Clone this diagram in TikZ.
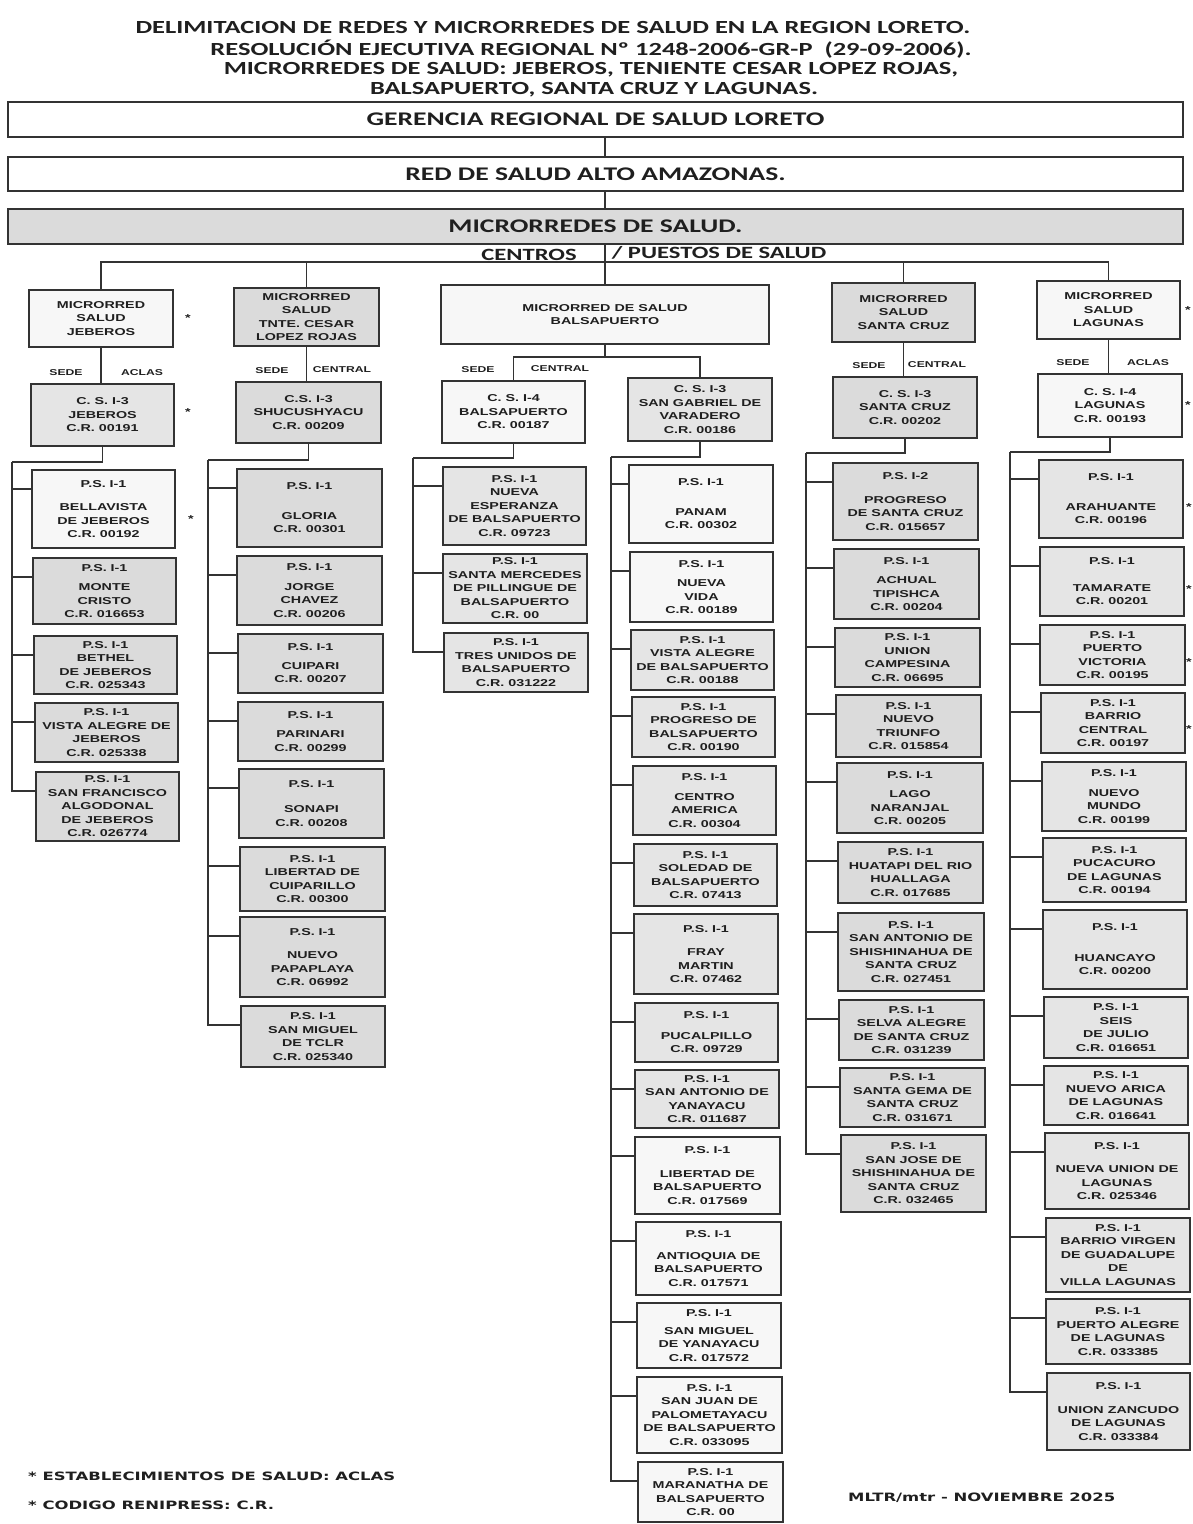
\documentclass[tikz,border=0pt]{standalone}
\usepackage{fontspec}
\newfontfamily\boxfont[FakeStretch=1.43]{Liberation Sans}
\newfontfamily\hdrfont[FakeStretch=1.43]{Carlito}
\newfontfamily\ftfont[FakeStretch=1.43]{DejaVu Sans}
\usetikzlibrary{calc}
\definecolor{linec}{gray}{0.2}
\definecolor{txtc}{gray}{0.12}
\definecolor{gfill}{gray}{0.86}
\definecolor{lfill}{gray}{0.9}
\definecolor{wfill}{gray}{0.97}
\tikzset{
  box/.style={draw=linec, line width=1.4pt, inner sep=0pt, outer sep=0pt, align=center, text=txtc,
              font=\boxfont\bfseries\fontsize{10}{13.5}\selectfont},
  wbox/.style={box, fill=wfill},
  lbox/.style={box, fill=lfill},
  gbox/.style={box, fill=gfill},
  hbox/.style={draw=linec, line width=1.4pt, inner sep=0pt, outer sep=0pt, text=txtc,
               font=\hdrfont\bfseries\fontsize{19.3}{22}\selectfont},
  conn/.style={draw=linec, line width=1.5pt},
  lbl/.style={inner sep=0pt, text=txtc, font=\boxfont\bfseries\fontsize{8.5}{10}\selectfont},
  ttl/.style={inner sep=0pt, text=txtc, font=\hdrfont\bfseries\fontsize{18.5}{22}\selectfont},
  starmark/.style={inner sep=0pt, text=txtc, font=\boxfont\bfseries\fontsize{10}{12}\selectfont},
  foot/.style={inner sep=0pt, anchor=west, text=txtc, font=\ftfont\bfseries\fontsize{11.5}{14}\selectfont}
}
\newcommand\bx[7]{\node[#6, minimum width={#4-#2}, minimum height={#5-#3}] (#1) at ({(#2+#4)/2},{(#3+#5)/2}) {#7};}
\newcommand\tk[2]{\draw[conn] (#1) |- ([yshift=-19pt]#2.north west);}
\begin{document}
\begin{tikzpicture}[x=1pt,y=-1pt]
\fill[white] (0,0) rectangle (1192,1524);
\useasboundingbox (0,0) rectangle (1192,1524);

% titles
\node[ttl] (t1) at (553,27) {DELIMITACION DE REDES Y MICRORREDES DE SALUD EN LA REGION LORETO.};
\node[ttl] (t2) at (591,49) {RESOLUCIÓN EJECUTIVA REGIONAL Nº 1248-2006-GR-P\ \ (29-09-2006).};
\node[ttl] (t3) at (591,70) {MICRORREDES DE SALUD: JEBEROS, TENIENTE CESAR LOPEZ ROJAS,};
\node[ttl] (t4) at (594,90) {BALSAPUERTO, SANTA CRUZ Y LAGUNAS.};

% header boxes
\node[hbox, fill=white, minimum width=1175, minimum height=35] (ger) at (595.5,119.5) {GERENCIA REGIONAL DE SALUD LORETO};
\node[hbox, fill=white, minimum width=1175, minimum height=34] (red) at (595.5,174) {RED DE SALUD ALTO AMAZONAS.};
\node[hbox, fill=gfill, minimum width=1175, minimum height=35] (mic) at (595.5,226.5) {MICRORREDES DE SALUD.};
\node[ttl, font=\hdrfont\bfseries\fontsize{17.2}{20}\selectfont] (cen) at (529,255) {CENTROS};
\node[ttl, font=\hdrfont\bfseries\fontsize{17.2}{20}\selectfont] (pue) at (719,253) {/ PUESTOS DE SALUD};

% level 1
\bx{jeb}{29}{290}{173}{347}{wbox}{MICRORRED\\SALUD\\JEBEROS}
\bx{tcl}{234}{288}{379}{346}{gbox}{MICRORRED\\SALUD\\TNTE. CESAR\\LOPEZ ROJAS}
\bx{bal}{441}{285}{769}{344}{wbox}{MICRORRED DE SALUD\\BALSAPUERTO}
\bx{scr}{832}{283}{975}{342}{gbox}{MICRORRED\\SALUD\\SANTA CRUZ}
\bx{lag}{1037}{281}{1180}{339}{wbox}{MICRORRED\\SALUD\\LAGUNAS}

\coordinate (bar) at (605,262);
\draw[conn] (ger.south -| bal.north) -- (red.north -| bal.north);
\draw[conn] (red.south -| bal.north) -- (mic.north -| bal.north);
\draw[conn] (mic.south -| bal.north) -- (bal.north);
\draw[conn] (jeb.north) |- (bar);
\draw[conn] (lag.north) |- (bar);
\draw[conn] (tcl.north) -- (tcl.north |- bar);
\draw[conn] (scr.north) -- (scr.north |- bar);

% level 2
\bx{csj}{31}{384}{174}{446}{lbox}{C. S. I-3\\JEBEROS\\C.R. 00191}
\bx{css}{236}{382}{381}{443}{gbox}{C.S. I-3\\SHUCUSHYACU\\C.R. 00209}
\bx{csb}{442}{381}{585}{443}{wbox}{C. S. I-4\\BALSAPUERTO\\C.R. 00187}
\bx{sgv}{628}{378}{772}{441}{lbox}{C. S. I-3\\SAN GABRIEL DE\\VARADERO\\C.R. 00186}
\bx{csc}{833}{377}{977}{438}{gbox}{C. S. I-3\\SANTA CRUZ\\C.R. 00202}
\bx{csl}{1038}{374}{1182}{437}{wbox}{C. S. I-4\\LAGUNAS\\C.R. 00193}

\draw[conn] (jeb.south) -- (jeb.south |- csj.north);
\draw[conn] (tcl.south) -- (tcl.south |- css.north);
\coordinate (b2) at (605,357);
\draw[conn] (bal.south) -- (bal.south |- b2);
\draw[conn] (csb.north) |- (sgv.north |- b2) -- (sgv.north);
\draw[conn] (scr.south) -- (scr.south |- csc.north);
\draw[conn] (lag.south) -- (lag.south |- csl.north);

\node[lbl] (l1a) at (66,373) {SEDE};
\node[lbl] (l1b) at (142,373) {ACLAS};
\node[lbl] (l2a) at (272,371) {SEDE};
\node[lbl] (l2b) at (342,370) {CENTRAL};
\node[lbl] (l3a) at (478,370) {SEDE};
\node[lbl] (l3b) at (560,369) {CENTRAL};
\node[lbl] (l4a) at (869,366) {SEDE};
\node[lbl] (l4b) at (937,365) {CENTRAL};
\node[lbl] (l5a) at (1073,363) {SEDE};
\node[lbl] (l5b) at (1148,363) {ACLAS};

% column 1
\bx{bel}{32}{470}{175}{548}{wbox}{P.S. I-1\\[10pt]BELLAVISTA\\DE JEBEROS\\C.R. 00192}
\bx{mon}{33}{558}{176}{624}{gbox}{P.S. I-1\\[6pt]MONTE\\CRISTO\\C.R. 016653}
\bx{bet}{34}{636}{177}{694}{gbox}{P.S. I-1\\BETHEL\\DE JEBEROS\\C.R. 025343}
\bx{vaj}{35}{703}{178}{762}{gbox}{P.S. I-1\\VISTA ALEGRE DE\\JEBEROS\\C.R. 025338}
\bx{sfr}{36}{772}{179}{841}{gbox}{P.S. I-1\\SAN FRANCISCO\\ALGODONAL\\DE JEBEROS\\C.R. 026774}
\coordinate (v1) at (12,462);
\draw[conn] (csj.south) |- (v1);
\tk{v1}{bel}\tk{v1}{mon}\tk{v1}{bet}\tk{v1}{vaj}\tk{v1}{sfr}

% column 2
\bx{glo}{237}{469}{382}{547}{gbox}{P.S. I-1\\[16pt]GLORIA\\C.R. 00301}
\bx{jor}{237}{556}{382}{625}{gbox}{P.S. I-1\\[6pt]JORGE\\CHAVEZ\\C.R. 00206}
\bx{cui}{238}{634}{383}{693}{gbox}{P.S. I-1\\[5pt]CUIPARI\\C.R. 00207}
\bx{par}{238}{702}{383}{761}{gbox}{P.S. I-1\\[6pt]PARINARI\\C.R. 00299}
\bx{son}{239}{769}{384}{838}{gbox}{P.S. I-1\\[12pt]SONAPI\\C.R. 00208}
\bx{lcu}{240}{847}{385}{911}{gbox}{P.S. I-1\\LIBERTAD DE\\CUIPARILLO\\C.R. 00300}
\bx{pap}{240}{917}{385}{997}{gbox}{P.S. I-1\\[10pt]NUEVO\\PAPAPLAYA\\C.R. 06992}
\bx{smt}{241}{1006}{385}{1067}{gbox}{P.S. I-1\\SAN MIGUEL\\DE TCLR\\C.R. 025340}
\coordinate (v2) at (208,460);
\draw[conn] (css.south) |- (v2);
\tk{v2}{glo}\tk{v2}{jor}\tk{v2}{cui}\tk{v2}{par}\tk{v2}{son}\tk{v2}{lcu}\tk{v2}{pap}\tk{v2}{smt}

% column 3a
\bx{nes}{443}{467}{586}{545}{lbox}{P.S. I-1\\NUEVA\\ESPERANZA\\DE BALSAPUERTO\\C.R. 09723}
\bx{smp}{443}{554}{587}{623}{lbox}{P.S. I-1\\SANTA MERCEDES\\DE PILLINGUE DE\\BALSAPUERTO\\C.R. 00}
\bx{tun}{444}{633}{588}{692}{lbox}{P.S. I-1\\TRES UNIDOS DE\\BALSAPUERTO\\C.R. 031222}
\coordinate (v3a) at (413,458);
\draw[conn] (csb.south) |- (v3a);
\tk{v3a}{nes}\tk{v3a}{smp}\tk{v3a}{tun}

% column 3b
\bx{pan}{629}{465}{773}{543}{wbox}{P.S. I-1\\[16pt]PANAM\\C.R. 00302}
\bx{nvi}{630}{552}{773}{622}{wbox}{P.S. I-1\\[6pt]NUEVA\\VIDA\\C.R. 00189}
\bx{vab}{631}{630}{774}{690}{lbox}{P.S. I-1\\VISTA ALEGRE\\DE BALSAPUERTO\\C.R. 00188}
\bx{pgb}{632}{697}{775}{757}{lbox}{P.S. I-1\\PROGRESO DE\\BALSAPUERTO\\C.R. 00190}
\bx{cam}{633}{766}{776}{835}{lbox}{P.S. I-1\\[6pt]CENTRO\\AMERICA\\C.R. 00304}
\bx{sol}{634}{844}{777}{906}{lbox}{P.S. I-1\\SOLEDAD DE\\BALSAPUERTO\\C.R. 07413}
\bx{fra}{634}{914}{778}{994}{lbox}{P.S. I-1\\[10pt]FRAY\\MARTIN\\C.R. 07462}
\bx{puc}{635}{1003}{778}{1062}{lbox}{P.S. I-1\\[7pt]PUCALPILLO\\C.R. 09729}
\bx{say}{635}{1070}{779}{1128}{lbox}{P.S. I-1\\SAN ANTONIO DE\\YANAYACU\\C.R. 011687}
\bx{lba}{635}{1137}{780}{1214}{wbox}{P.S. I-1\\[10pt]LIBERTAD DE\\BALSAPUERTO\\C.R. 017569}
\bx{ant}{636}{1222}{781}{1295}{wbox}{P.S. I-1\\[8pt]ANTIOQUIA DE\\BALSAPUERTO\\C.R. 017571}
\bx{smy}{637}{1303}{781}{1368}{wbox}{P.S. I-1\\[4pt]SAN MIGUEL\\DE YANAYACU\\C.R. 017572}
\bx{sjp}{637}{1377}{782}{1453}{wbox}{P.S. I-1\\SAN JUAN DE\\PALOMETAYACU\\DE BALSAPUERTO\\C.R. 033095}
\bx{mar}{638}{1462}{783}{1522}{wbox}{P.S. I-1\\MARANATHA DE\\BALSAPUERTO\\C.R. 00}
\coordinate (v3b) at (611,457);
\draw[conn] (sgv.south) |- (v3b);
\tk{v3b}{pan}\tk{v3b}{nvi}\tk{v3b}{vab}\tk{v3b}{pgb}\tk{v3b}{cam}\tk{v3b}{sol}\tk{v3b}{fra}
\tk{v3b}{puc}\tk{v3b}{say}\tk{v3b}{lba}\tk{v3b}{ant}\tk{v3b}{smy}\tk{v3b}{sjp}\tk{v3b}{mar}

% column 4
\bx{pro}{833}{463}{978}{540}{gbox}{P.S. I-2\\[10pt]PROGRESO\\DE SANTA CRUZ\\C.R. 015657}
\bx{ach}{834}{549}{979}{619}{gbox}{P.S. I-1\\[6pt]ACHUAL\\TIPISHCA\\C.R. 00204}
\bx{uca}{835}{628}{980}{687}{gbox}{P.S. I-1\\UNION\\CAMPESINA\\C.R. 06695}
\bx{ntr}{836}{695}{981}{757}{gbox}{P.S. I-1\\NUEVO\\TRIUNFO\\C.R. 015854}
\bx{lna}{837}{763}{983}{833}{gbox}{P.S. I-1\\[6pt]LAGO\\NARANJAL\\C.R. 00205}
\bx{hua}{838}{842}{983}{903}{gbox}{P.S. I-1\\HUATAPI DEL RIO\\HUALLAGA\\C.R. 017685}
\bx{sas}{838}{913}{984}{991}{gbox}{P.S. I-1\\SAN ANTONIO DE\\SHISHINAHUA DE\\SANTA CRUZ\\C.R. 027451}
\bx{sel}{839}{1000}{984}{1060}{gbox}{P.S. I-1\\SELVA ALEGRE\\DE SANTA CRUZ\\C.R. 031239}
\bx{sge}{840}{1068}{985}{1127}{gbox}{P.S. I-1\\SANTA GEMA DE\\SANTA CRUZ\\C.R. 031671}
\bx{sjs}{841}{1135}{986}{1212}{gbox}{P.S. I-1\\SAN JOSE DE\\SHISHINAHUA DE\\SANTA CRUZ\\C.R. 032465}
\coordinate (v4) at (806,453);
\draw[conn] (csc.south) |- (v4);
\tk{v4}{pro}\tk{v4}{ach}\tk{v4}{uca}\tk{v4}{ntr}\tk{v4}{lna}\tk{v4}{hua}\tk{v4}{sas}\tk{v4}{sel}\tk{v4}{sge}\tk{v4}{sjs}

% column 5
\bx{ara}{1039}{460}{1183}{538}{lbox}{P.S. I-1\\[16pt]ARAHUANTE\\C.R. 00196}
\bx{tam}{1040}{547}{1184}{616}{lbox}{P.S. I-1\\[13pt]TAMARATE\\C.R. 00201}
\bx{pvi}{1040}{625}{1185}{685}{lbox}{P.S. I-1\\PUERTO\\VICTORIA\\C.R. 00195}
\bx{bce}{1041}{693}{1185}{753}{lbox}{P.S. I-1\\BARRIO\\CENTRAL\\C.R. 00197}
\bx{nmu}{1042}{762}{1186}{831}{lbox}{P.S. I-1\\[6pt]NUEVO\\MUNDO\\C.R. 00199}
\bx{pcl}{1043}{838}{1186}{902}{lbox}{P.S. I-1\\PUCACURO\\DE LAGUNAS\\C.R. 00194}
\bx{hcy}{1043}{910}{1187}{989}{lbox}{P.S. I-1\\[17pt]HUANCAYO\\C.R. 00200}
\bx{sju}{1044}{997}{1188}{1058}{lbox}{P.S. I-1\\SEIS\\DE JULIO\\C.R. 016651}
\bx{nar}{1044}{1066}{1188}{1125}{lbox}{P.S. I-1\\NUEVO ARICA\\DE LAGUNAS\\C.R. 016641}
\bx{nul}{1045}{1133}{1189}{1209}{lbox}{P.S. I-1\\[10pt]NUEVA UNION DE\\LAGUNAS\\C.R. 025346}
\bx{bvg}{1046}{1218}{1190}{1292}{lbox}{P.S. I-1\\BARRIO VIRGEN\\DE GUADALUPE\\DE\\VILLA LAGUNAS}
\bx{pal}{1046}{1299}{1190}{1364}{lbox}{P.S. I-1\\PUERTO ALEGRE\\DE LAGUNAS\\C.R. 033385}
\bx{uzl}{1047}{1373}{1190}{1450}{lbox}{P.S. I-1\\[10pt]UNION ZANCUDO\\DE LAGUNAS\\C.R. 033384}
\coordinate (v5) at (1010,452);
\draw[conn] (csl.south) |- (v5);
\tk{v5}{ara}\tk{v5}{tam}\tk{v5}{pvi}\tk{v5}{bce}\tk{v5}{nmu}\tk{v5}{pcl}\tk{v5}{hcy}
\tk{v5}{sju}\tk{v5}{nar}\tk{v5}{nul}\tk{v5}{bvg}\tk{v5}{pal}\tk{v5}{uzl}

% stars
\node[starmark] (s1) at (188,318) {*};
\node[starmark] (s2) at (188,412) {*};
\node[starmark] (s3) at (191,519) {*};
\node[starmark] (s4) at (1188,310) {*};
\node[starmark] (s5) at (1188,405) {*};
\node[starmark] (s6) at (1189,507) {*};
\node[starmark] (s7) at (1189,589) {*};
\node[starmark] (s8) at (1189,662) {*};
\node[starmark] (s9) at (1189,729) {*};

% footer
\node[foot] (f1) at (28,1476) {* ESTABLECIMIENTOS DE SALUD: ACLAS};
\node[foot] (f2) at (28,1505) {* CODIGO RENIPRESS: C.R.};
\node[foot] (f3) at (848,1498) {MLTR/mtr - NOVIEMBRE 2025};
\end{tikzpicture}
\end{document}
